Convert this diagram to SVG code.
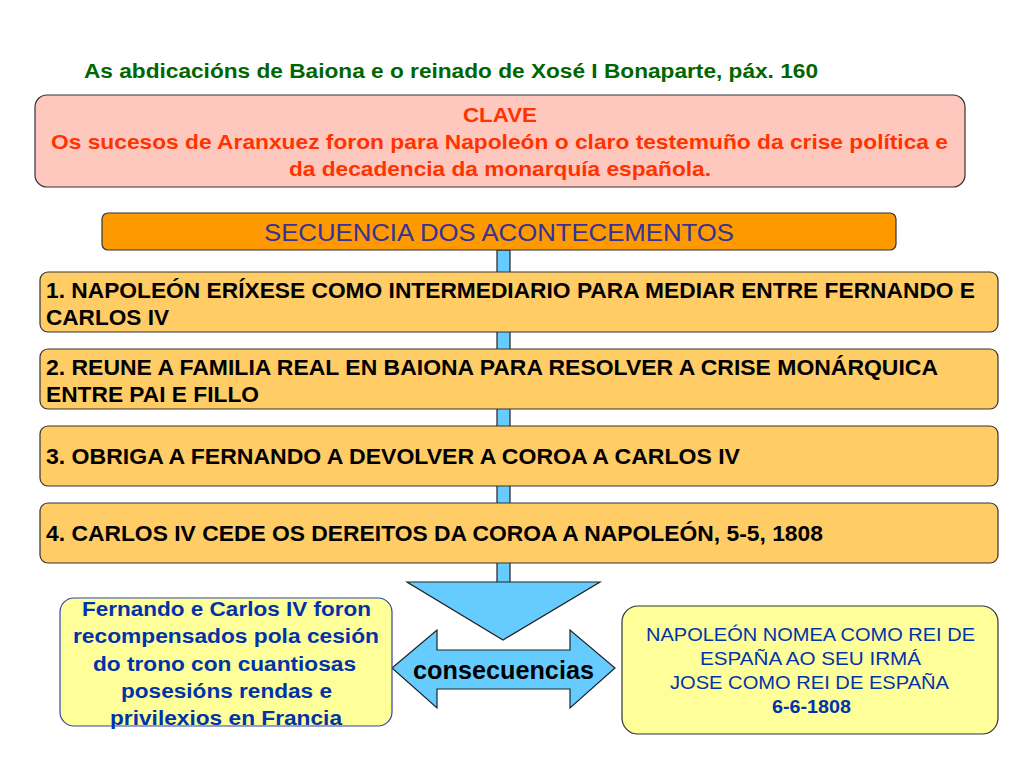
<svg xmlns="http://www.w3.org/2000/svg" width="1024" height="768" viewBox="0 0 1024 768">
<style>
.b{font-family:"Liberation Sans",Arial,sans-serif;font-weight:bold}
.r{font-family:"Liberation Sans",Arial,sans-serif}
.step{fill:#FFCC66;stroke:#333;stroke-width:1.2}
.st{font-size:21.5px;fill:#000}
.blue{fill:#66CCFF;stroke:#222;stroke-width:1.2}
</style>
<rect width="1024" height="768" fill="#fff"/>
<text class="b" x="84" y="78" font-size="20" fill="#006600" textLength="734" lengthAdjust="spacingAndGlyphs">As abdicacións de Baiona e o reinado de Xosé I Bonaparte, páx. 160</text>
<g id="connectors">
<rect class="blue" x="497" y="250" width="13" height="340"/>
<polygon class="blue" points="497,582 407,582 503,640 600,582 510,582"/>
<polygon class="blue" points="392,668 437,630 437,650 570,650 570,630 615,668 570,708 570,689 437,689 437,708"/>
<text class="b" x="413" y="679" font-size="25" fill="#000" textLength="181" lengthAdjust="spacingAndGlyphs">consecuencias</text>
</g>
<g id="clave">
<rect x="35" y="95" width="930" height="92" rx="12" fill="#FFC8BE" stroke="#333" stroke-width="1.2"/>
<text class="b" font-size="20.5" fill="#FF3300"><tspan x="463" y="122" textLength="74" lengthAdjust="spacingAndGlyphs">CLAVE</tspan><tspan x="51" y="149" textLength="897" lengthAdjust="spacingAndGlyphs">Os sucesos de Aranxuez foron para Napoleón o claro testemuño da crise política e</tspan><tspan x="289" y="176" textLength="422" lengthAdjust="spacingAndGlyphs">da decadencia da monarquía española.</tspan></text>
</g>
<g id="secuencia">
<rect x="102" y="213" width="794" height="37" rx="6" fill="#FF9900" stroke="#333" stroke-width="1.2"/>
<text class="r" x="264" y="241" font-size="23" fill="#333399" textLength="470" lengthAdjust="spacingAndGlyphs">SECUENCIA DOS ACONTECEMENTOS</text>
</g>
<g id="step1">
<rect class="step" x="40" y="272" width="958" height="60" rx="8"/>
<text class="b st"><tspan x="46" y="298" textLength="929" lengthAdjust="spacingAndGlyphs">1. NAPOLEÓN ERÍXESE COMO INTERMEDIARIO PARA MEDIAR ENTRE FERNANDO E</tspan><tspan x="46" y="325" textLength="123" lengthAdjust="spacingAndGlyphs">CARLOS IV</tspan></text>
</g>
<g id="step2">
<rect class="step" x="40" y="349" width="958" height="60" rx="8"/>
<text class="b st"><tspan x="46" y="375" textLength="892" lengthAdjust="spacingAndGlyphs">2. REUNE A FAMILIA REAL EN BAIONA PARA RESOLVER A CRISE MONÁRQUICA</tspan><tspan x="46" y="402" textLength="213" lengthAdjust="spacingAndGlyphs">ENTRE PAI E FILLO</tspan></text>
</g>
<g id="step3">
<rect class="step" x="40" y="426" width="958" height="60" rx="8"/>
<text class="b st" x="46" y="464" textLength="694" lengthAdjust="spacingAndGlyphs">3. OBRIGA A FERNANDO A DEVOLVER A COROA A CARLOS IV</text>
</g>
<g id="step4">
<rect class="step" x="40" y="503" width="958" height="60" rx="8"/>
<text class="b st" x="46" y="541" textLength="777" lengthAdjust="spacingAndGlyphs">4. CARLOS IV CEDE OS DEREITOS DA COROA A NAPOLEÓN, 5-5, 1808</text>
</g>
<g id="left-result">
<rect x="60" y="598" width="332" height="128" rx="14" fill="#FFFF99" stroke="#3344AA" stroke-width="1.2"/>
<text class="b" font-size="20" fill="#0033AA"><tspan x="82" y="616" textLength="289" lengthAdjust="spacingAndGlyphs">Fernando e Carlos IV foron</tspan><tspan x="73" y="643" textLength="306" lengthAdjust="spacingAndGlyphs">recompensados pola cesión</tspan><tspan x="93" y="671" textLength="263" lengthAdjust="spacingAndGlyphs">do trono con cuantiosas</tspan><tspan x="121" y="698" textLength="211" lengthAdjust="spacingAndGlyphs">posesións rendas e</tspan><tspan x="110" y="725" textLength="232" lengthAdjust="spacingAndGlyphs">privilexios en Francia</tspan></text>
</g>
<g id="right-result">
<rect x="622" y="606" width="376" height="128" rx="16" fill="#FFFF99" stroke="#333" stroke-width="1.2"/>
<text class="r" font-size="17.5" fill="#0033AA"><tspan x="646" y="641" textLength="329" lengthAdjust="spacingAndGlyphs">NAPOLEÓN NOMEA COMO REI DE</tspan><tspan x="700" y="665" textLength="221" lengthAdjust="spacingAndGlyphs">ESPAÑA AO SEU IRMÁ</tspan><tspan x="670" y="689" textLength="279" lengthAdjust="spacingAndGlyphs">JOSE COMO REI DE ESPAÑA</tspan><tspan x="772" y="713" font-weight="bold" textLength="79" lengthAdjust="spacingAndGlyphs">6-6-1808</tspan></text>
</g>
</svg>
